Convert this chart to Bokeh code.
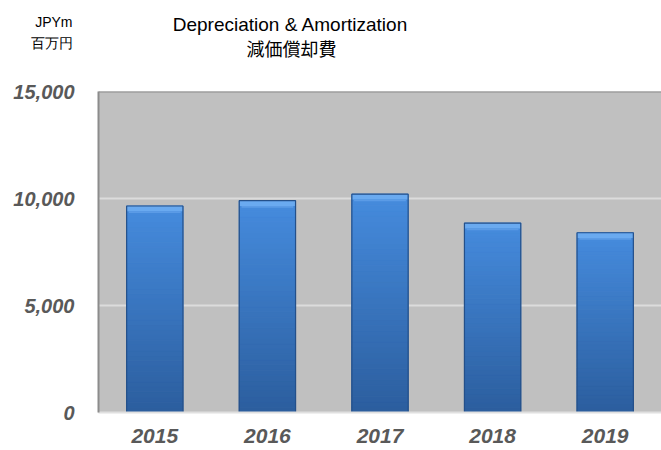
from bokeh.plotting import figure
from bokeh.layouts import column
from bokeh.models import ColumnDataSource, Range1d, Label, NumeralTickFormatter, FixedTicker, Span
from bokeh.embed import file_html
from bokeh.resources import INLINE

# ---- data ----
years = ["2015", "2016", "2017", "2018", "2019"]
amounts = [9650, 9900, 10200, 8850, 8400]
y_ticks = [0, 5000, 10000, 15000]

title_en = "Depreciation & Amortization"
title_jp = "減価償却費"
unit_en = "JPYm"
unit_jp = "百万円"

W = 661
HEAD = 79
LEFT = 98

# ---- header strip (titles / unit) ----
h = figure(width=W, height=HEAD, x_range=Range1d(LEFT, W), y_range=Range1d(HEAD, 0),
           output_backend="svg", toolbar_location=None, x_axis_location=None,
           min_border_left=LEFT, min_border_right=0, min_border_top=0, min_border_bottom=0)
h.grid.visible = False
h.outline_line_color = None
h.background_fill_color = "white"
h.border_fill_color = "white"
# unit text drawn as the header's left-axis labels (left of the plot frame)
h.yaxis.ticker = FixedTicker(ticks=[21, 42])
h.yaxis.major_label_overrides = {21: unit_en, 42: unit_jp}
h.yaxis.axis_line_color = None
h.yaxis.major_tick_line_color = None
h.yaxis.minor_tick_line_color = None
h.yaxis.major_tick_out = 0
h.yaxis.major_label_standoff = 26
h.yaxis.major_label_text_font = "Liberation Sans"
h.yaxis.major_label_text_font_size = "14px"
h.yaxis.major_label_text_color = "black"

def lab(x, y, txt, size, font):
    h.add_layout(Label(x=x, y=y, text=txt, text_align="center", text_baseline="middle",
                       text_font=font, text_font_size=size, text_color="black"))

lab(290, 24, title_en, "19px", "Liberation Sans")
lab(291, 47, title_jp, "18px", "Noto Sans CJK JP")

# ---- chart ----
p = figure(
    x_range=years, y_range=Range1d(0, 15000),
    width=W, height=450 - HEAD, output_backend="svg", toolbar_location=None,
    min_border_left=LEFT, min_border_right=0, min_border_top=91 - HEAD, min_border_bottom=38,
)
p.background_fill_color = "#c0c0c0"
p.border_fill_color = "white"
p.outline_line_color = None

# gradient bars: stacked segments derived from values
N = 40
bot_c = (44, 94, 158)
top_c = (70, 140, 222)
xs, bs, ts, cs = [], [], [], []
for yr, v in zip(years, amounts):
    for i in range(N):
        f0, f1 = i / N, (i + 1) / N
        t = (f0 + f1) / 2
        c = tuple(int(bot_c[k] + (top_c[k] - bot_c[k]) * t) for k in range(3))
        xs.append(yr); bs.append(v * f0); ts.append(v * f1)
        cs.append("#%02x%02x%02x" % c)
seg = ColumnDataSource(dict(x=xs, bottom=bs, top=ts, color=cs))
p.vbar(x="x", bottom="bottom", top="top", width=0.5, source=seg,
       fill_color="color", line_color="color", line_width=1)

# bevel highlight at the top of each bar
bev = ColumnDataSource(dict(x=years, top=amounts, bottom=[a - 250 for a in amounts]))
p.vbar(x="x", top="top", bottom="bottom", width=0.5, source=bev,
       fill_color="#6aaaf0", line_color=None)
bev2 = ColumnDataSource(dict(x=years, top=[a - 250 for a in amounts], bottom=[a - 330 for a in amounts]))
p.vbar(x="x", top="top", bottom="bottom", width=0.46, source=bev2,
       fill_color="#5b9be6", line_color=None)

# dark outline
src = ColumnDataSource(dict(x=years, top=amounts))
p.vbar(x="x", top="top", bottom=0, width=0.5, source=src,
       fill_color=None, line_color="#24508a", line_width=1.2)

# grid
p.xgrid.grid_line_color = None
p.ygrid.grid_line_color = "#dcdcdc"
p.ygrid.grid_line_width = 2
p.yaxis.ticker = FixedTicker(ticks=y_ticks)

p.add_layout(Span(location=15000, dimension="width", line_color="#8c8c8c", line_width=2))

# axes
p.yaxis.formatter = NumeralTickFormatter(format="0,0")
p.yaxis.axis_line_color = "#8c8c8c"
p.yaxis.axis_line_width = 2
p.yaxis.major_tick_line_color = None
p.yaxis.minor_tick_line_color = None
p.yaxis.major_tick_out = 0
p.yaxis.major_label_standoff = 24
p.yaxis.major_label_text_font = "Liberation Sans"
p.yaxis.major_label_text_font_style = "bold italic"
p.yaxis.major_label_text_font_size = "20px"
p.yaxis.major_label_text_color = "#595959"

p.xaxis.axis_line_color = "#e0e0e0"
p.xaxis.axis_line_width = 2
p.xaxis.major_tick_line_color = None
p.xaxis.major_tick_out = 0
p.xaxis.major_label_standoff = 16
p.xaxis.major_label_text_font = "Liberation Sans"
p.xaxis.major_label_text_font_style = "bold italic"
p.xaxis.major_label_text_font_size = "21px"
p.xaxis.major_label_text_color = "#595959"

layout = column(h, p, spacing=0)
open("out.html", "w").write(file_html(layout, INLINE))
